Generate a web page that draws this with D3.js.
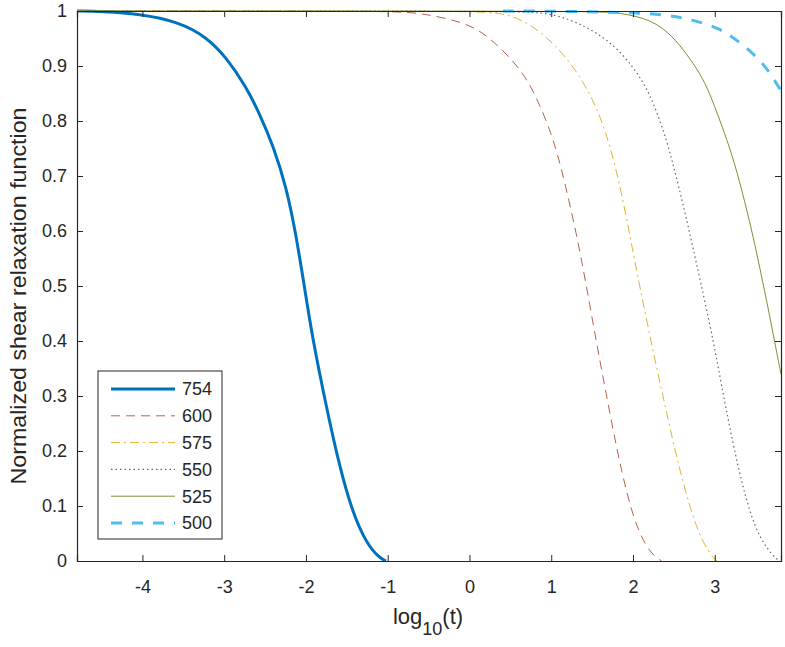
<!DOCTYPE html>
<html><head><meta charset="utf-8">
<script src="https://cdn.jsdelivr.net/npm/d3@7"></script>
<style>body{margin:0;background:#fff}svg{display:block}text{font-family:"Liberation Sans",Arial,sans-serif;fill:#262626}</style>
</head><body><svg id="c" width="785" height="647"></svg>
<script>
const seriesNames = ["754", "600", "575", "550", "525", "500"];
const x754 = [-4.8, -4.5, -4.04, -3.55, -3.22, -2.98, -2.73, -2.57, -2.40, -2.24, -2.12, -2.02, -1.92, -1.75, -1.59, -1.43, -1.26, -1.10, -1.02];
const y754 = [1.0, 0.999, 0.995, 0.98, 0.953, 0.917, 0.862, 0.814, 0.755, 0.68, 0.592, 0.50, 0.405, 0.28, 0.172, 0.088, 0.032, 0.005, 0];
const x600 = [-4.8, -1.0, -0.61, 0.0, 0.28, 0.53, 0.70, 0.86, 1.02, 1.14, 1.31, 1.43, 1.55, 1.67, 1.80, 1.92, 2.04, 2.20, 2.35];
const y600 = [1, 1, 0.997, 0.978, 0.947, 0.91, 0.877, 0.83, 0.77, 0.705, 0.595, 0.50, 0.40, 0.305, 0.205, 0.125, 0.063, 0.015, 0];
const x575 = [-4.8, 0.0, 0.41, 0.70, 0.94, 1.18, 1.39, 1.55, 1.67, 1.80, 1.92, 2.04, 2.24, 2.41, 2.57, 2.73, 2.86, 2.98, 3.03];
const y575 = [1, 1, 0.997, 0.98, 0.953, 0.917, 0.872, 0.826, 0.778, 0.71, 0.625, 0.53, 0.385, 0.27, 0.165, 0.08, 0.032, 0.006, 0];
const x550 = [-4.8, 0.5, 1.02, 1.43, 1.75, 2.0, 2.16, 2.29, 2.41, 2.49, 2.57, 2.65, 2.73, 2.82, 2.94, 3.02, 3.10, 3.18, 3.30, 3.43, 3.55, 3.71, 3.79];
const y550 = [1, 1, 0.997, 0.972, 0.941, 0.899, 0.862, 0.818, 0.765, 0.722, 0.674, 0.624, 0.572, 0.512, 0.43, 0.37, 0.306, 0.245, 0.16, 0.088, 0.042, 0.009, 0];
const x525 = [-4.8, 1.5, 1.84, 2.24, 2.49, 2.65, 2.82, 2.94, 3.06, 3.18, 3.30, 3.43, 3.51, 3.59, 3.67, 3.73, 3.81];
const y525 = [1, 1, 0.997, 0.984, 0.953, 0.923, 0.887, 0.85, 0.802, 0.753, 0.693, 0.615, 0.562, 0.505, 0.447, 0.40, 0.34];
const x500 = [0.41, 1.0, 2.04, 2.41, 2.73, 3.06, 3.30, 3.55, 3.69, 3.81];
const y500 = [1, 1, 0.997, 0.993, 0.984, 0.969, 0.944, 0.912, 0.884, 0.855];
const xTicks = [-4, -3, -2, -1, 0, 1, 2, 3];
const yTicks = [0, 0.1, 0.2, 0.3, 0.4, 0.5, 0.6, 0.7, 0.8, 0.9, 1];

const xsAll = [x754, x600, x575, x550, x525, x500];
const ysAll = [y754, y600, y575, y550, y525, y500];
const styles = [
  {color: "#0072BD", w: 3, dash: null},
  {color: "#B8604C", w: 1, dash: "9,6"},
  {color: "#DDB530", w: 1, dash: "9,4,2,4"},
  {color: "#6A5E7C", w: 1.2, dash: "1.5,3"},
  {color: "#7F8F35", w: 1, dash: null},
  {color: "#4DBEEE", w: 3, dash: "11,10"}
];

const L = 77, R = 781, T = 11, B = 561;
const svg = d3.select("#c");
const x = d3.scaleLinear().domain([-4.8, 3.81]).range([L, R]);
const y = d3.scaleLinear().domain([0, 1]).range([B, T]);

svg.append("defs").append("clipPath").attr("id", "clip")
  .append("rect").attr("x", L).attr("y", T - 2).attr("width", R - L).attr("height", B - T + 2);

// lines
const line = d3.line().x(d => x(d[0])).y(d => y(d[1])).curve(d3.curveBasis);
const g = svg.append("g").attr("clip-path", "url(#clip)");
seriesNames.forEach((n, i) => {
  const pts = xsAll[i].map((v, j) => [v, ysAll[i][j]]);
  g.append("path").attr("d", line(pts)).attr("fill", "none")
    .attr("stroke", styles[i].color).attr("stroke-width", styles[i].w)
    .attr("stroke-dasharray", styles[i].dash);
});

// axes
const tickLen = 6;
const axB = d3.axisBottom(x).tickValues(xTicks).tickSize(-tickLen).tickPadding(19).tickFormat(d => String(d));
const axT = d3.axisTop(x).tickValues(xTicks).tickSize(-tickLen).tickFormat("");
const axL = d3.axisLeft(y).tickValues(yTicks).tickSize(-tickLen).tickPadding(10).tickFormat(d => d === 0 || d === 1 ? String(d) : d3.format(".1f")(d));
const axRt = d3.axisRight(y).tickValues(yTicks).tickSize(-tickLen).tickFormat("");
function style(sel) {
  sel.select(".domain").attr("stroke", "#262626").attr("stroke-width", 1.2);
  sel.selectAll(".tick line").attr("stroke", "#262626").attr("stroke-width", 1);
  sel.selectAll(".tick text").attr("font-size", 18).attr("fill", "#262626").style("font-family", "Liberation Sans, Arial, sans-serif");
}
svg.append("g").attr("transform", `translate(0,${B})`).call(axB).call(style);
svg.append("g").attr("transform", `translate(0,${T})`).call(axT).call(style);
svg.append("g").attr("transform", `translate(${L},0)`).call(axL).call(style);
svg.append("g").attr("transform", `translate(${R},0)`).call(axRt).call(style);

// axis labels
svg.append("text").attr("transform", `translate(25.5,296) rotate(-90)`)
  .attr("text-anchor", "middle").attr("font-size", 22)
  .attr("textLength", 377).attr("lengthAdjust", "spacingAndGlyphs")
  .text("Normalized shear relaxation function");
const xl = svg.append("text").attr("x", 428).attr("y", 624).attr("text-anchor", "middle").attr("font-size", 22);
xl.append("tspan").text("log");
xl.append("tspan").attr("font-size", 18).attr("dy", 11).text("10");
xl.append("tspan").attr("dy", -11).text("(t)");

// legend
const lg = svg.append("g");
lg.append("rect").attr("x", 98).attr("y", 371).attr("width", 124).attr("height", 168)
  .attr("fill", "#fff").attr("stroke", "#262626").attr("stroke-width", 1);
seriesNames.forEach((n, i) => {
  const yy = 389 + i * 26.8;
  lg.append("line").attr("x1", 111).attr("x2", 175).attr("y1", yy).attr("y2", yy)
    .attr("stroke", styles[i].color).attr("stroke-width", styles[i].w)
    .attr("stroke-dasharray", styles[i].dash);
  lg.append("text").attr("x", 182).attr("y", yy).attr("dy", "0.36em").attr("font-size", 18).text(n);
});
</script></body></html>
